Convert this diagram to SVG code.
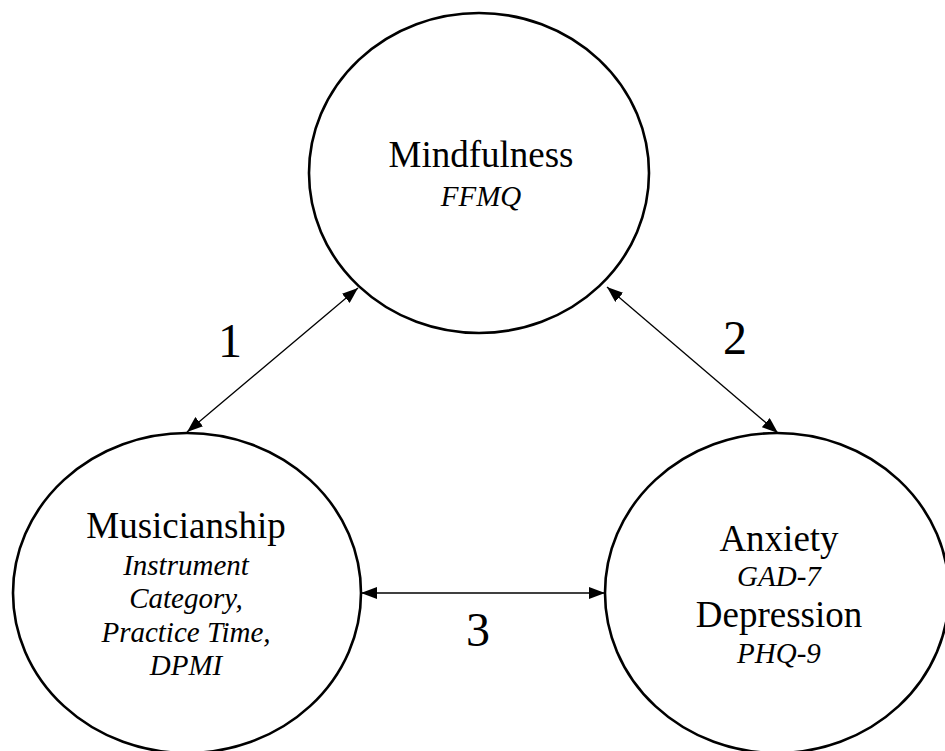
<svg xmlns="http://www.w3.org/2000/svg" width="945" height="751" viewBox="0 0 945 751">
<style>
.node{fill:#fff;stroke:#000;stroke-width:2.6}
text{font-family:'Liberation Serif','DejaVu Serif',serif;fill:#000;text-anchor:middle}
.t{font-size:37px}
.s{font-size:29px;font-style:italic}
.n{font-size:48px}
.c{fill:none;stroke:#000;stroke-width:1.3;marker-start:url(#ah);marker-end:url(#ah)}
</style>
<defs>
<marker id="ah" viewBox="0 0 16 12" refX="16" refY="6" markerWidth="16" markerHeight="12" markerUnits="userSpaceOnUse" orient="auto-start-reverse">
<path d="M0,0 L16,6 L0,12 Z" fill="#000"/>
</marker>
</defs>
<rect width="945" height="751" fill="#fff"/>
<g id="mindfulness">
<ellipse class="node" cx="479" cy="173" rx="170" ry="160"/>
<text class="t" x="481" y="167" font-family="Liberation Serif, serif">Mindfulness</text>
<text class="s" x="481" y="206" font-family="Liberation Serif, serif">FFMQ</text>
</g>
<g id="musicianship">
<ellipse class="node" cx="187" cy="593" rx="174" ry="160"/>
<text class="t" x="186" y="538" font-family="Liberation Serif, serif">Musicianship</text>
<text class="s" x="186" y="575" font-family="Liberation Serif, serif">Instrument</text>
<text class="s" x="186" y="608" font-family="Liberation Serif, serif">Category,</text>
<text class="s" x="186" y="642" font-family="Liberation Serif, serif">Practice Time,</text>
<text class="s" x="186" y="675" font-family="Liberation Serif, serif">DPMI</text>
</g>
<g id="anxiety">
<ellipse class="node" cx="777" cy="593" rx="172" ry="160"/>
<text class="t" x="779" y="551" font-family="Liberation Serif, serif">Anxiety</text>
<text class="s" x="779" y="586" font-family="Liberation Serif, serif">GAD-7</text>
<text class="t" x="779" y="627" font-family="Liberation Serif, serif">Depression</text>
<text class="s" x="779" y="663" font-family="Liberation Serif, serif">PHQ-9</text>
</g>
<g id="connectors">
<path class="c" d="M187,432 L358,288"/>
<path class="c" d="M607,287 L778,433"/>
<path class="c" d="M361,593 L605,593"/>
</g>
<g id="labels">
<text class="n" x="230" y="357" font-family="Liberation Serif, serif">1</text>
<text class="n" x="735" y="354" font-family="Liberation Serif, serif">2</text>
<text class="n" x="478" y="646" font-family="Liberation Serif, serif">3</text>
</g>
</svg>
